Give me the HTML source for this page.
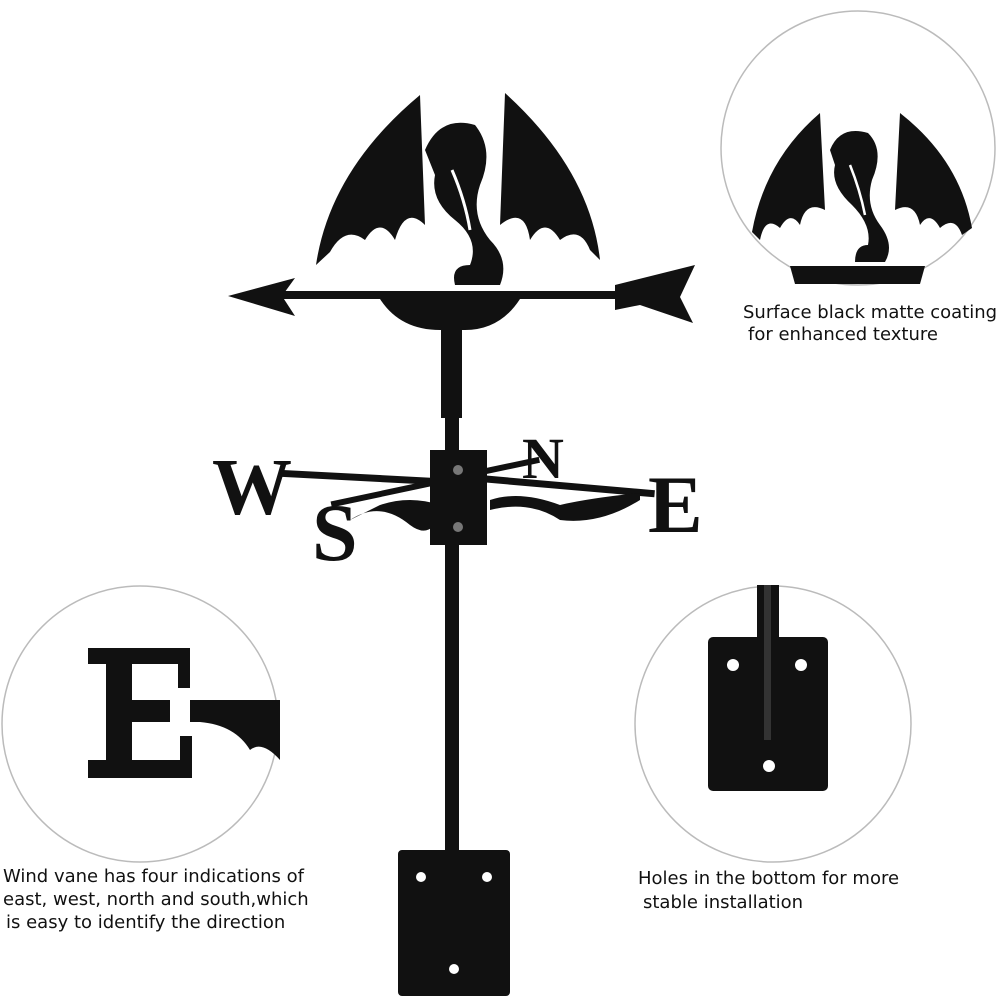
<!DOCTYPE html>
<html><head><meta charset="utf-8"><style>
html,body{margin:0;padding:0;background:#fff;}
.t{position:absolute;font-family:"DejaVu Sans","Liberation Sans",sans-serif;font-size:18px;color:#111;white-space:nowrap}
</style></head><body>
<div style="position:relative;width:1000px;height:1000px;overflow:hidden">
<svg width="1000" height="1000" viewBox="0 0 1000 1000" style="position:absolute;left:0;top:0">
<circle cx="858" cy="148" r="137" fill="none" stroke="#bbb" stroke-width="1.5"/>
<circle cx="140" cy="724" r="138" fill="none" stroke="#bbb" stroke-width="1.5"/>
<circle cx="773" cy="724" r="138" fill="none" stroke="#bbb" stroke-width="1.5"/>

<rect x="441" y="328" width="21" height="90" fill="#111"/>
<rect x="445" y="410" width="14" height="445" fill="#111"/>
<rect x="398" y="850" width="112" height="146" rx="4" fill="#111"/>
<circle cx="421" cy="877" r="5" fill="#fff"/>
<circle cx="487" cy="877" r="5" fill="#fff"/>
<circle cx="454" cy="969" r="5" fill="#fff"/>

<rect x="270" y="291" width="360" height="8" fill="#111"/>
<path d="M228 296 L295 278 L282 296 L295 316 Z" fill="#111"/>
<path d="M615 285 L695 265 L680 297 L693 323 L640 305 L615 310 Z" fill="#111"/>
<path d="M380 299 Q400 330 440 330 L465 330 Q500 330 520 299 Z" fill="#111"/>
<path d="M316 265 Q330 170 420 95 L425 225 Q405 205 395 240 Q380 215 365 240 Q345 225 330 252 Z" fill="#111"/>
<path d="M600 260 Q590 170 505 93 L500 225 Q525 205 530 240 Q545 215 560 240 Q580 225 590 250 Z" fill="#111"/>
<path d="M425 150 Q440 115 475 125 Q495 150 480 185 Q470 215 490 240 Q510 260 500 285 L455 285 Q450 265 470 265 Q480 240 455 220 Q430 200 435 175 Z" fill="#111"/>
<path d="M452 170 Q465 200 470 230" stroke="#fff" stroke-width="3" fill="none"/>

<rect x="280" y="474" width="160" height="7" fill="#111" transform="rotate(3 360 477)"/>
<rect x="470" y="482" width="185" height="7" fill="#111" transform="rotate(5 560 485)"/>
<rect x="330" y="490" width="110" height="6" fill="#111" transform="rotate(-12 385 493)"/>
<rect x="480" y="463" width="60" height="6" fill="#111" transform="rotate(-12 510 466)"/>
<path d="M350 520 Q380 500 410 525 Q430 540 440 515 L440 505 Q410 495 380 505 Z" fill="#111"/>
<path d="M490 510 Q530 500 560 520 Q600 525 640 500 L640 493 Q590 498 560 505 Q520 490 490 500 Z" fill="#111"/>
<text x="212" y="514" font-family="Liberation Serif,serif" font-weight="bold" font-size="80" fill="#111">W</text>
<text x="648" y="532" font-family="Liberation Serif,serif" font-weight="bold" font-size="82" fill="#111">E</text>
<text x="522" y="478" font-family="Liberation Serif,serif" font-weight="bold" font-size="58" fill="#111">N</text>
<text x="312" y="560" font-family="Liberation Serif,serif" font-weight="bold" font-size="82" fill="#111">S</text>
<rect x="430" y="450" width="57" height="95" fill="#111"/>
<circle cx="458" cy="470" r="5" fill="#777"/>
<circle cx="458" cy="527" r="5" fill="#777"/>

<path d="M752 232 Q765 160 820 113 L825 210 Q805 200 800 225 Q790 210 780 228 Q765 215 760 240 Z" fill="#111"/>
<path d="M972 228 Q960 160 900 113 L895 210 Q915 200 920 225 Q930 210 940 228 Q955 215 962 235 Z" fill="#111"/>
<path d="M830 150 Q840 125 868 133 Q885 150 872 180 Q865 205 880 225 Q895 245 885 262 L855 262 Q855 245 868 245 Q872 225 852 205 Q830 185 835 165 Z" fill="#111"/>
<path d="M850 165 Q860 190 865 215" stroke="#fff" stroke-width="2.5" fill="none"/>
<path d="M790 266 L925 266 L920 284 L795 284 Z" fill="#111"/>

<path d="M88 648 L190 648 L190 688 L178 688 L178 664 L132 664 L132 700 L170 700 L170 722 L132 722 L132 760 L180 760 L180 736 L192 736 L192 778 L88 778 L88 760 L106 760 L106 664 L88 664 Z" fill="#111"/>
<path d="M190 700 L280 700 L280 760 Q262 740 250 750 Q235 725 200 722 L190 722 Z" fill="#111"/>

<rect x="708" y="637" width="120" height="154" rx="5" fill="#111"/>
<rect x="757" y="585" width="22" height="160" fill="#111"/>
<rect x="764" y="585" width="7" height="155" fill="#333"/>
<circle cx="733" cy="665" r="6" fill="#fff"/>
<circle cx="801" cy="665" r="6" fill="#fff"/>
<circle cx="769" cy="766" r="6" fill="#fff"/>
</svg>

<div class="t" style="left:743px;top:302px">Surface black matte coating</div>
<div class="t" style="left:748px;top:324px">for enhanced texture</div>
<div class="t" style="left:3px;top:866px">Wind vane has four indications of</div>
<div class="t" style="left:3px;top:889px">east, west, north and south,which</div>
<div class="t" style="left:6px;top:912px">is easy to identify the direction</div>
<div class="t" style="left:638px;top:868px">Holes in the bottom for more</div>
<div class="t" style="left:643px;top:892px">stable installation</div>
</div>
</body></html>
